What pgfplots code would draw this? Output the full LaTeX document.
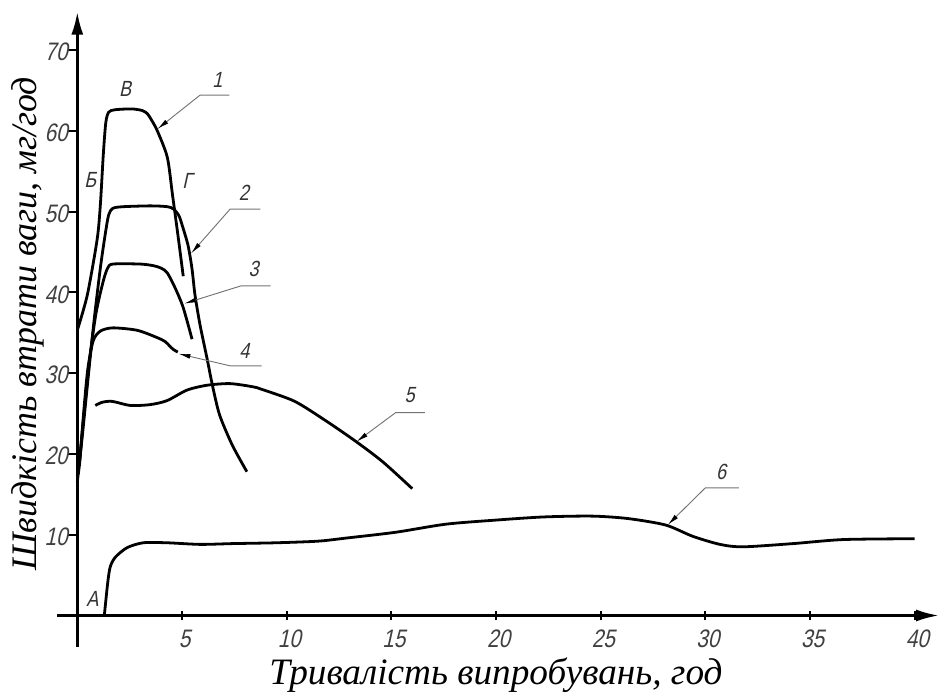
\documentclass[border=0pt]{standalone}
\usepackage{fontspec}
\setmainfont{Liberation Serif}
\newfontfamily\gost[FakeStretch=0.82,FakeSlant=0.22]{Liberation Sans}
\usepackage{pgfplots}
\pgfplotsset{compat=1.18}
\usetikzlibrary{arrows.meta}
\tikzset{
 lab/.style={font=\gost\fontsize{16.5}{18}\selectfont, text=black!80},
 leader/.style={draw=black!55, line width=0.7pt, -{Latex[black,length=9pt,width=3.5pt]}},
 curve/.style={line width=2.1pt, black, solid, smooth, tension=0.45},
 biglab/.style={font=\itshape\fontsize{28}{30}\selectfont, inner sep=0pt},
}
\begin{document}
\begin{tikzpicture}
\begin{axis}[
 scale only axis, width=662.25pt, height=477pt,
 xmin=-0.95, xmax=41.15, ymin=-3.87, ymax=74.7,
 axis lines=middle,
 axis line style={line width=1.9pt, -{Latex[length=17pt,width=9pt]}},
 xtick={5,10,...,40}, ytick={10,20,...,70},
 tick align=center, major tick length=7pt,
 tick style={line width=1.5pt, black},
 ytick style={xshift=-3.5pt},
 ticklabel style={font=\gost\fontsize{19}{21}\selectfont, text=black!75},
 /pgf/number format/assume math mode=true,
 xticklabel style={anchor=north, inner sep=0pt, yshift=-7pt, xshift=2pt},
 yticklabel style={anchor=east, inner sep=0pt, xshift=-3.5pt, yshift=-1.5pt},
 clip=false,
]
% curve 1
\addplot[curve] coordinates {(0,35.3) (0.48,39.7) (0.95,46.6) (1.1,50.8) (1.24,57.0) (1.36,61.0) (1.5,62.3) (1.8,62.6) (2.6,62.7) (3.1,62.5) (3.35,62.1) (3.55,61.3) (3.82,60.0) (4.3,56.7) (4.55,52.0) (4.8,47.2) (5.06,42.0)};
% curve 2
\addplot[curve] coordinates {(0,16.5) (0.25,22.5) (0.5,29) (0.8,36.5) (1.1,43) (1.34,47.3) (1.5,49.6) (1.7,50.4) (2.2,50.6) (3.5,50.7) (4.3,50.6) (4.6,50.3) (4.85,49.5) (5.01,48.3) (5.29,45.8) (5.48,42.9) (5.62,39.7) (5.86,36.0) (6.19,31.9) (6.47,28.3) (6.8,24.8) (7.4,21.1) (8.1,17.8)};
% curve 3
\addplot[curve] coordinates {(0.05,17.5) (0.3,24.5) (0.6,32) (0.9,37.5) (1.24,41.4) (1.45,43.0) (1.7,43.5) (3.0,43.5) (3.63,43.3) (4.0,43.0) (4.3,42.4) (4.68,40.5) (5.06,38.1) (5.48,34.2)};
% curve 4
\addplot[curve] coordinates {(0.1,18.5) (0.3,25) (0.5,30.5) (0.76,34.0) (1.1,35.2) (1.7,35.6) (2.86,35.3) (3.81,34.4) (4.2,33.9) (4.43,33.3) (4.6,32.9) (4.8,32.6)};
% curve 5
\addplot[curve] coordinates {(0.86,26.0) (1.2,26.4) (1.67,26.5) (2.53,26.0) (3.48,26.1) (4.29,26.6) (5.24,27.9) (6.2,28.5) (7.3,28.7) (8.4,28.3) (8.8,28.0) (10.39,26.5) (11.93,24.0) (13.33,21.5) (14.6,19.0) (16.0,15.7)};
% curve 6
\addplot[curve] coordinates {(1.29,0) (1.45,4) (1.57,6.0) (1.81,7.2) (2.38,8.4) (3.15,9.0) (4.29,9.0) (5.87,8.8) (7.44,8.9) (9.5,9.0) (11.5,9.2) (12.9,9.6) (15.2,10.3) (17.6,11.3) (19.95,11.8) (22.3,12.2) (24.6,12.3) (26.3,12.0) (28.1,11.2) (29.4,9.8) (30.7,8.8) (31.8,8.5) (34.2,8.9) (36.6,9.4) (40,9.5)};
% leaders
\draw[leader] (axis cs:7.26,64.4) -- (axis cs:5.86,64.4) -- (axis cs:3.82,60.2);
\draw[leader] (axis cs:8.75,50.3) -- (axis cs:7.3,50.3) -- (axis cs:5.43,44.8);
\draw[leader] (axis cs:9.23,40.8) -- (axis cs:7.82,40.8) -- (axis cs:5.1,38.6);
\draw[leader] (axis cs:8.8,30.9) -- (axis cs:7.3,30.9) -- (axis cs:4.83,32.4);
\draw[leader] (axis cs:16.6,25.1) -- (axis cs:15.2,25.1) -- (axis cs:13.33,21.5);
\draw[leader] (axis cs:31.6,15.8) -- (axis cs:30.0,15.8) -- (axis cs:28.2,11.2);
\node[lab] at (axis cs:6.69,66.3) {1};
\node[lab] at (axis cs:7.96,52.3) {2};
\node[lab] at (axis cs:8.42,42.9) {3};
\node[lab] at (axis cs:7.98,32.8) {4};
\node[lab] at (axis cs:15.87,27.3) {5};
\node[lab] at (axis cs:30.76,17.8) {6};
\node[lab] at (axis cs:0.72,2.0) {А};
\node[lab] at (axis cs:0.62,53.9) {Б};
\node[lab] at (axis cs:2.29,65.2) {В};
\node[lab] at (axis cs:5.25,53.8) {Г};
\node[biglab, font=\itshape\fontsize{27}{29}\selectfont, rotate=90, anchor=base] at (axis cs:-1.93,36.1) {Швидкість втрати ваги, мг/год};
\node[biglab, anchor=base] at (axis cs:20,-8.5) {Тривалість випробувань, год};
\coordinate (O) at (axis cs:0,0);
\end{axis}
\path (O) ++(-58.1pt,0);
\path ([yshift=9pt]current axis.north);
\end{tikzpicture}
\end{document}
